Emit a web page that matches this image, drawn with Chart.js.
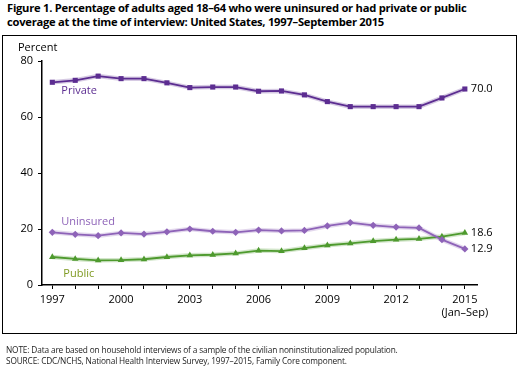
<!DOCTYPE html>
<html>
<head>
<meta charset="utf-8">
<script src="https://cdn.jsdelivr.net/npm/chart.js@4"></script>
<style>
  html, body { margin: 0; padding: 0; background: #fff; }
  body { width: 525px; height: 368px; position: relative; overflow: hidden; font-family: "Open Sans", sans-serif; }
  #title { position: absolute; left: 7px; top: 1px; font-weight: bold; font-size: 11.2px; line-height: 14px; color: #000; letter-spacing: -0.25px; }
  #frame { position: absolute; left: 2px; top: 35px; width: 513px; height: 297px; border: 1.5px solid #000; pointer-events: none; }
  #foot { position: absolute; left: 6px; top: 344px; font-size: 8.3px; line-height: 11px; color: #222; letter-spacing: -0.15px; }
  #wrap { position: absolute; left: 0; top: 0; width: 525px; height: 368px; }
</style>
</head>
<body>
<div id="title">Figure 1. Percentage of adults aged 18–64 who were uninsured or had private or public<br>coverage at the time of interview: United States, 1997–September 2015</div>
<div id="wrap"><canvas id="c" width="525" height="368"></canvas></div>
<div id="frame"></div>
<div id="foot">NOTE: Data are based on household interviews of a sample of the civilian noninstitutionalized population.<br>SOURCE: CDC/NCHS, National Health Interview Survey, 1997–2015, Family Core component.</div>
<script>
const years = [1997,1998,1999,2000,2001,2002,2003,2004,2005,2006,2007,2008,2009,2010,2011,2012,2013,2014,2015];
const privateCov = [72.4,73.1,74.6,73.7,73.7,72.2,70.5,70.7,70.7,69.2,69.3,67.9,65.5,63.7,63.7,63.7,63.7,66.8,70.0];
const uninsured = [18.8,18.1,17.6,18.6,18.2,19.0,20.0,19.2,18.8,19.6,19.3,19.5,21.1,22.3,21.3,20.7,20.4,16.2,12.9];
const publicCov = [10.0,9.3,8.8,8.9,9.2,10.0,10.6,10.8,11.3,12.3,12.1,13.2,14.2,14.9,15.7,16.2,16.5,17.3,18.6];
const labeledYears = [1997,2000,2003,2006,2009,2012,2015];
const yTicks = [0,20,40,60,80];

const FONT = '"Open Sans", sans-serif';
function pts(arr){ return years.map((y,i)=>({x:y, y:arr[i]})); }

const labelsPlugin = {
  id: 'labelsPlugin',
  afterDatasetsDraw(chart) {
    const ctx = chart.ctx;
    const xs = chart.scales.x, ys = chart.scales.y;
    ctx.save();
    ctx.font = '11px ' + FONT;
    ctx.textBaseline = 'middle';
    ctx.textAlign = 'left';
    ctx.fillStyle = '#000';
    ctx.fillText('Percent', 18, 48);
    const last = years.length - 1;
    const lx = xs.getPixelForValue(years[last]) + 6;
    ctx.fillText(privateCov[last].toFixed(1), lx, ys.getPixelForValue(privateCov[last]));
    ctx.fillText(publicCov[last].toFixed(1), lx, ys.getPixelForValue(publicCov[last]));
    ctx.fillText(uninsured[last].toFixed(1), lx, ys.getPixelForValue(uninsured[last]));
    const nx = xs.getPixelForValue(years[0]) + 9;
    ctx.fillStyle = '#5c2d91';
    ctx.fillText('Private', nx, ys.getPixelForValue(privateCov[0]) + 9);
    ctx.fillStyle = '#8e63b8';
    ctx.fillText('Uninsured', nx, ys.getPixelForValue(uninsured[0]) - 11);
    ctx.fillStyle = '#7f9a22';
    ctx.fillText('Public', nx + 2, ys.getPixelForValue(publicCov[0]) + 17);
    ctx.restore();
  }
};

function halo(arr, color) {
  return {
    data: pts(arr), borderColor: color, borderWidth: 4.5, pointRadius: 0,
    tension: 0, clip: false, order: 10
  };
}
function ds(label, arr, color, style, r) {
  return {
    label, data: pts(arr), borderColor: color, backgroundColor: color,
    borderWidth: 1.8, pointStyle: style, pointRadius: r, pointBorderWidth: 0,
    pointBackgroundColor: color, tension: 0, clip: false, order: 1
  };
}

new Chart(document.getElementById('c'), {
  type: 'line',
  data: {
    datasets: [
      halo(privateCov, 'rgba(92,45,145,0.25)'),
      halo(uninsured, 'rgba(142,99,184,0.25)'),
      halo(publicCov, 'rgba(78,154,46,0.25)'),
      ds('Private', privateCov, '#5c2d91', 'rect', 3.6),
      ds('Uninsured', uninsured, '#8e63b8', 'rectRot', 3.6),
      ds('Public', publicCov, '#4e9a2e', 'triangle', 3.8)
    ]
  },
  options: {
    responsive: false, animation: false, devicePixelRatio: 1,
    layout: { padding: { left: 0, top: 61, right: 48, bottom: 50 } },
    plugins: { legend: { display: false }, tooltip: { enabled: false } },
    scales: {
      x: {
        type: 'linear', min: 1996.55, max: 2015.53,
        afterFit(s){ s.height = 33; },
        afterBuildTicks(s){ s.ticks = years.map(v=>({value:v})); },
        grid: { display: true, drawOnChartArea: false, drawTicks: true, tickLength: 4, color: '#000', lineWidth: 1 },
        border: { display: true, color: '#000', width: 1.5 },
        ticks: {
          autoSkip: false, maxRotation: 0, padding: 4, color: '#000',
          font: { family: FONT, size: 11 },
          callback(v){ if (!labeledYears.includes(v)) return ''; return v === 2015 ? ['2015','(Jan–Sep)'] : String(v); }
        }
      },
      y: {
        min: 0, max: 80,
        afterFit(s){ s.width = 42; },
        afterBuildTicks(s){ s.ticks = yTicks.map(v=>({value:v})); },
        grid: { display: true, drawOnChartArea: false, drawTicks: true, tickLength: 4, color: '#000', lineWidth: 1 },
        border: { display: true, color: '#000', width: 1.5 },
        ticks: { padding: 5, color: '#000', font: { family: FONT, size: 11 } }
      }
    }
  },
  plugins: [labelsPlugin]
});
</script>
</body>
</html>
